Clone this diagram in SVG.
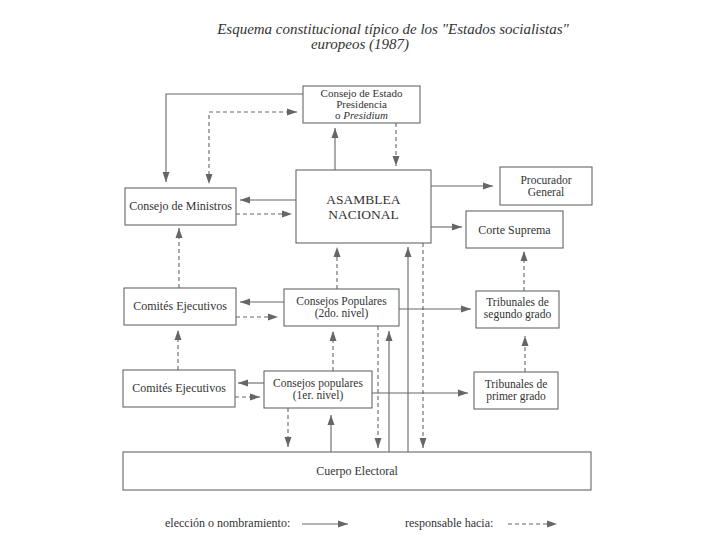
<svg xmlns="http://www.w3.org/2000/svg" width="720" height="540" viewBox="0 0 720 540">
<defs>
<marker id="ah" markerUnits="userSpaceOnUse" markerWidth="11" markerHeight="8" refX="10" refY="4" orient="auto-start-reverse"><path d="M0,0.5 L10,4 L0,7.5 z" fill="#666"/></marker>
<style>
.box{fill:#fff;stroke:#666;stroke-width:1.1}
.t{font-family:"Liberation Serif","Times New Roman",serif;font-size:12px;fill:#333;text-anchor:middle}
.m{font-size:11.5px}
.m3{font-size:11px}
.big{font-size:13.5px}
.ttl{font-family:"Liberation Serif","Times New Roman",serif;font-style:italic;font-size:15px;fill:#333;text-anchor:middle}
.s{fill:none;stroke:#666;stroke-width:1.1;marker-end:url(#ah)}
.d{fill:none;stroke:#666;stroke-width:1.1;stroke-dasharray:4,3;marker-end:url(#ah)}
</style>
</defs>
<rect width="720" height="540" fill="#fff"/>
<g id="title">
<text class="ttl" x="393" y="34">Esquema constitucional típico de los "Estados socialistas"</text>
<text class="ttl" x="360" y="49">europeos (1987)</text>
</g>
<g id="connectors">
<path class="s" d="M303,94 H166 V182"/>
<path class="d" d="M297,112 H209 V184" style="marker-start:url(#ah)"/>
<path class="s" d="M335,170 V128"/>
<path class="d" d="M396,123 V166"/>
<path class="s" d="M296,200 H240"/>
<path class="d" d="M236,214 H292"/>
<path class="s" d="M431,186 H493"/>
<path class="s" d="M431,227 H462"/>
<path class="d" d="M179,288 V228"/>
<path class="d" d="M337,289 V247"/>
<path class="s" d="M408,452 V247"/>
<path class="d" d="M423,243 V448"/>
<path class="d" d="M524,291 V251"/>
<path class="s" d="M284,302 H240"/>
<path class="d" d="M236,317 H278"/>
<path class="s" d="M399,309 H471"/>
<path class="d" d="M378,326 V448"/>
<path class="s" d="M389,452 V331"/>
<path class="d" d="M178,370 V330"/>
<path class="d" d="M333,371 V331"/>
<path class="d" d="M525,372 V336"/>
<path class="s" d="M264,383 H238"/>
<path class="d" d="M235,397 H260"/>
<path class="s" d="M372,393 H468"/>
<path class="d" d="M288,408 V447"/>
<path class="s" d="M331,452 V415"/>
</g>
<g id="consejo-estado">
<rect class="box" x="303" y="86" width="117" height="37"/>
<text class="t m3" x="361.5" y="97">Consejo de Estado</text>
<text class="t m3" x="361.5" y="108">Presidencia</text>
<text class="t m3" x="361.5" y="119">o <tspan font-style="italic">Presidium</tspan></text>
</g>
<g id="asamblea">
<rect class="box" x="296" y="170" width="135" height="73"/>
<text class="t big" x="363.5" y="204">ASAMBLEA</text>
<text class="t big" x="363.5" y="219">NACIONAL</text>
</g>
<g id="consejo-ministros">
<rect class="box" x="125" y="188" width="111" height="37"/>
<text class="t" x="180.5" y="210">Consejo de Ministros</text>
</g>
<g id="procurador">
<rect class="box" x="500" y="167" width="92" height="38"/>
<text class="t m" x="546" y="184">Procurador</text>
<text class="t m" x="546" y="196">General</text>
</g>
<g id="corte-suprema">
<rect class="box" x="466" y="211" width="97" height="37"/>
<text class="t" x="514.5" y="234">Corte Suprema</text>
</g>
<g id="comites-2">
<rect class="box" x="124" y="288" width="112" height="37"/>
<text class="t" x="180" y="310">Comités Ejecutivos</text>
</g>
<g id="consejos-2">
<rect class="box" x="284" y="289" width="115" height="37"/>
<text class="t m" x="341.5" y="305">Consejos Populares</text>
<text class="t m" x="341.5" y="317">(2do. nivel)</text>
</g>
<g id="tribunales-2">
<rect class="box" x="476" y="291" width="83" height="37"/>
<text class="t m" x="517.5" y="306">Tribunales de</text>
<text class="t m" x="517.5" y="318">segundo grado</text>
</g>
<g id="comites-1">
<rect class="box" x="123" y="370" width="112" height="37"/>
<text class="t" x="179" y="392">Comités Ejecutivos</text>
</g>
<g id="consejos-1">
<rect class="box" x="264" y="371" width="108" height="37"/>
<text class="t m" x="318" y="387">Consejos populares</text>
<text class="t m" x="318" y="399">(1er. nivel)</text>
</g>
<g id="tribunales-1">
<rect class="box" x="474" y="372" width="84" height="37"/>
<text class="t m" x="516" y="388">Tribunales de</text>
<text class="t m" x="516" y="400">primer grado</text>
</g>
<g id="cuerpo-electoral">
<rect class="box" x="123" y="452" width="468" height="38"/>
<text class="t" x="357" y="475">Cuerpo Electoral</text>
</g>
<g id="legend">
<text class="t" x="165" y="527" style="text-anchor:start">elección o nombramiento:</text>
<path class="s" d="M302,524 H348"/>
<text class="t" x="405" y="527" style="text-anchor:start">responsable hacia:</text>
<path class="d" d="M508,524 H557"/>
</g>
</svg>
